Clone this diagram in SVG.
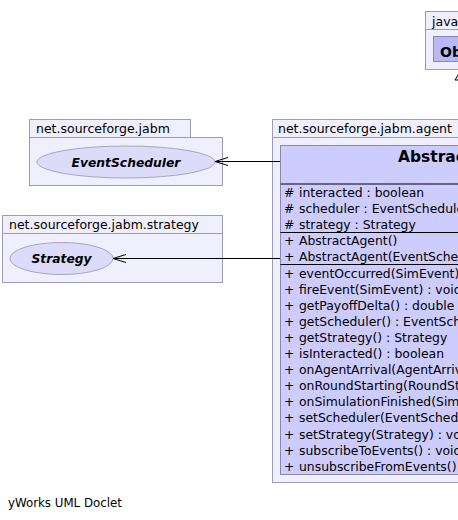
<svg xmlns="http://www.w3.org/2000/svg" width="458" height="520" viewBox="0 0 458 520">
<style>
text{font-family:"DejaVu Sans","Noto Sans",sans-serif;fill:#000}
.pkg{fill:#efeffd;stroke:#9c9cb4;stroke-width:1}
.plabel{font-size:12.5px}
.cls{fill:#ccccfe;stroke:#8a8aa8;stroke-width:1}
.sep{stroke:#000;stroke-width:1}
.ifc{fill:#dcdcfa;stroke:#a6a6c4;stroke-width:1}
.iname{font-size:12.3px;font-weight:bold;font-style:italic}
.mem{font-size:12.4px}
.title{font-size:15.5px;font-weight:bold}
.obj{fill:#b8b8f6;stroke:#8a8aa8;stroke-width:1}
.edge{stroke:#000;stroke-width:1;fill:none}
</style>
<g id="pkg-java">
<rect class="pkg" x="425.5" y="29.5" width="80" height="40"/>
<rect class="pkg" x="425.5" y="11.5" width="60" height="18"/>
<text class="plabel" x="432" y="25.5">java.lang</text>
</g>
<g id="node-object">
<rect class="obj" x="433.5" y="36.5" width="60" height="25"/>
<text x="440" y="57" style="font-size:14px;font-weight:bold">Object</text>
</g>
<g id="pkg-jabm">
<rect class="pkg" x="29.5" y="137.5" width="193" height="48"/>
<rect class="pkg" x="29.5" y="119.5" width="161" height="18"/>
<text class="plabel" x="36" y="132.5">net.sourceforge.jabm</text>
</g>
<g id="node-eventscheduler">
<ellipse class="ifc" cx="126" cy="162" rx="89" ry="16"/>
<text class="iname" x="126" y="166.5" text-anchor="middle">EventScheduler</text>
</g>
<g id="pkg-strategy">
<rect class="pkg" x="2.5" y="233.5" width="220" height="49"/>
<rect class="pkg" x="2.5" y="215.5" width="220" height="18"/>
<text class="plabel" x="9" y="229">net.sourceforge.jabm.strategy</text>
</g>
<g id="node-strategy">
<ellipse class="ifc" cx="61.5" cy="258.5" rx="51.5" ry="16"/>
<text class="iname" x="61.5" y="263" text-anchor="middle">Strategy</text>
</g>
<g id="pkg-agent">
<rect class="pkg" x="272.5" y="137.5" width="300" height="345"/>
<rect class="pkg" x="272.5" y="119.5" width="200" height="18"/>
<text class="plabel" x="278" y="132.5">net.sourceforge.jabm.agent</text>
</g>
<g id="node-abstractagent">
<rect class="cls" x="280.5" y="145.5" width="280" height="329"/>
<text class="title" x="398" y="161.5">AbstractAgent</text>
<line class="sep" x1="280.5" y1="184" x2="560" y2="184"/>
<line class="sep" x1="280.5" y1="232.5" x2="560" y2="232.5"/>
<line class="sep" x1="280.5" y1="264.5" x2="560" y2="264.5"/>
<g class="mem">
<text x="284" y="197">#</text><text x="299" y="197">interacted : boolean</text>
<text x="284" y="213.1">#</text><text x="299" y="213.1">scheduler : EventScheduler</text>
<text x="284" y="229.2">#</text><text x="299" y="229.2">strategy : Strategy</text>
<text x="284" y="245.3">+</text><text x="299" y="245.3">AbstractAgent()</text>
<text x="284" y="261.4">+</text><text x="299" y="261.4">AbstractAgent(EventScheduler)</text>
<text x="284" y="277.5">+</text><text x="299" y="277.5">eventOccurred(SimEvent) : void</text>
<text x="284" y="293.6">+</text><text x="299" y="293.6">fireEvent(SimEvent) : void</text>
<text x="284" y="309.7">+</text><text x="299" y="309.7">getPayoffDelta() : double</text>
<text x="284" y="325.8">+</text><text x="299" y="325.8">getScheduler() : EventScheduler</text>
<text x="284" y="341.9">+</text><text x="299" y="341.9">getStrategy() : Strategy</text>
<text x="284" y="358">+</text><text x="299" y="358">isInteracted() : boolean</text>
<text x="284" y="374.1">+</text><text x="299" y="374.1">onAgentArrival(AgentArrivalEvent) : void</text>
<text x="284" y="390.2">+</text><text x="299" y="390.2">onRoundStarting(RoundStartingEvent) : void</text>
<text x="284" y="406.3">+</text><text x="299" y="406.3">onSimulationFinished(SimulationFinishedEvent) : void</text>
<text x="284" y="422.4">+</text><text x="299" y="422.4">setScheduler(EventScheduler) : void</text>
<text x="284" y="438.5">+</text><text x="299" y="438.5">setStrategy(Strategy) : void</text>
<text x="284" y="454.6">+</text><text x="299" y="454.6">subscribeToEvents() : void</text>
<text x="284" y="470.7">+</text><text x="299" y="470.7">unsubscribeFromEvents() : void</text>
</g>
</g>
<g id="connectors">
<path class="edge" d="M280 161.5H215M228 157.5L215 161.5L228 165.5"/>
<path class="edge" d="M280 258.5H113M126 254.5L113 258.5L126 262.5"/>
<path class="edge" d="M461 145V80"/>
<path class="edge" d="M461 70L455 80H467Z" style="fill:#fff"/>
</g>
<text x="8" y="507" style="font-size:11.8px">yWorks UML Doclet</text>
</svg>
